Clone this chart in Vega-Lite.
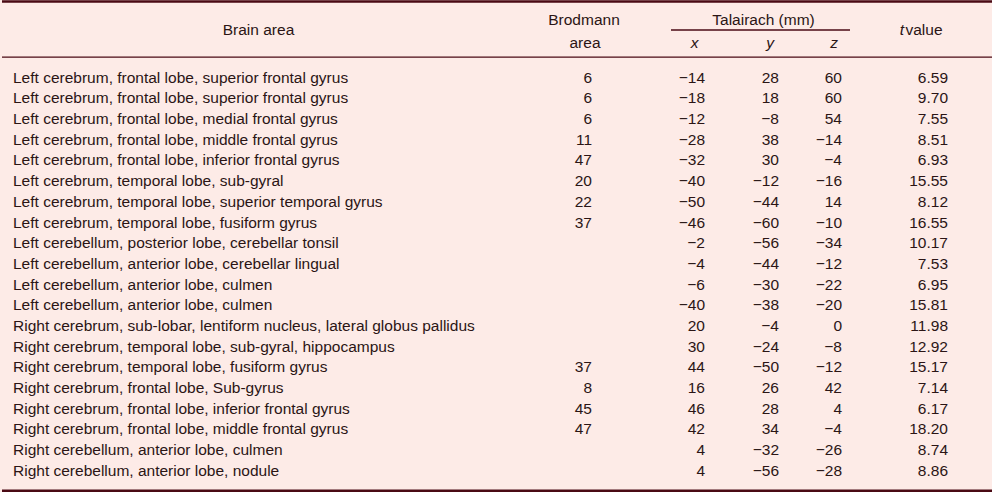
{
  "$schema": "https://vega.github.io/schema/vega-lite/v6.json",
  "width": 992,
  "height": 492,
  "autosize": {"type": "fit", "contains": "padding"},
  "padding": 0,
  "background": "#fdebe7",
  "config": {
    "view": {"stroke": null},
    "text": {"font": "Liberation Sans", "fontSize": 15.5, "fill": "#2b1515", "baseline": "alphabetic"},
    "rule": {"stroke": "#4a0a14"}
  },
  "datasets": {
    "rows": [
      {"row": 1, "area": "Left cerebrum, frontal lobe, superior frontal gyrus", "ba": 6, "x": -14, "y": 28, "z": 60, "t": 6.59},
      {"row": 2, "area": "Left cerebrum, frontal lobe, superior frontal gyrus", "ba": 6, "x": -18, "y": 18, "z": 60, "t": 9.70},
      {"row": 3, "area": "Left cerebrum, frontal lobe, medial frontal gyrus", "ba": 6, "x": -12, "y": -8, "z": 54, "t": 7.55},
      {"row": 4, "area": "Left cerebrum, frontal lobe, middle frontal gyrus", "ba": 11, "x": -28, "y": 38, "z": -14, "t": 8.51},
      {"row": 5, "area": "Left cerebrum, frontal lobe, inferior frontal gyrus", "ba": 47, "x": -32, "y": 30, "z": -4, "t": 6.93},
      {"row": 6, "area": "Left cerebrum, temporal lobe, sub-gyral", "ba": 20, "x": -40, "y": -12, "z": -16, "t": 15.55},
      {"row": 7, "area": "Left cerebrum, temporal lobe, superior temporal gyrus", "ba": 22, "x": -50, "y": -44, "z": 14, "t": 8.12},
      {"row": 8, "area": "Left cerebrum, temporal lobe, fusiform gyrus", "ba": 37, "x": -46, "y": -60, "z": -10, "t": 16.55},
      {"row": 9, "area": "Left cerebellum, posterior lobe, cerebellar tonsil", "ba": null, "x": -2, "y": -56, "z": -34, "t": 10.17},
      {"row": 10, "area": "Left cerebellum, anterior lobe, cerebellar lingual", "ba": null, "x": -4, "y": -44, "z": -12, "t": 7.53},
      {"row": 11, "area": "Left cerebellum, anterior lobe, culmen", "ba": null, "x": -6, "y": -30, "z": -22, "t": 6.95},
      {"row": 12, "area": "Left cerebellum, anterior lobe, culmen", "ba": null, "x": -40, "y": -38, "z": -20, "t": 15.81},
      {"row": 13, "area": "Right cerebrum, sub-lobar, lentiform nucleus, lateral globus pallidus", "ba": null, "x": 20, "y": -4, "z": 0, "t": 11.98},
      {"row": 14, "area": "Right cerebrum, temporal lobe, sub-gyral, hippocampus", "ba": null, "x": 30, "y": -24, "z": -8, "t": 12.92},
      {"row": 15, "area": "Right cerebrum, temporal lobe, fusiform gyrus", "ba": 37, "x": 44, "y": -50, "z": -12, "t": 15.17},
      {"row": 16, "area": "Right cerebrum, frontal lobe, Sub-gyrus", "ba": 8, "x": 16, "y": 26, "z": 42, "t": 7.14},
      {"row": 17, "area": "Right cerebrum, frontal lobe, inferior frontal gyrus", "ba": 45, "x": 46, "y": 28, "z": 4, "t": 6.17},
      {"row": 18, "area": "Right cerebrum, frontal lobe, middle frontal gyrus", "ba": 47, "x": 42, "y": 34, "z": -4, "t": 18.20},
      {"row": 19, "area": "Right cerebellum, anterior lobe, culmen", "ba": null, "x": 4, "y": -32, "z": -26, "t": 8.74},
      {"row": 20, "area": "Right cerebellum, anterior lobe, nodule", "ba": null, "x": 4, "y": -56, "z": -28, "t": 8.86}
    ],
    "one": [{}]
  },
  "layer": [
    {
      "data": {"name": "one"},
      "mark": {"type": "rule", "strokeWidth": 2.5},
      "encoding": {
        "x": {"datum": 0, "type": "quantitative", "scale": {"domain": [0, 992], "range": [0, 992], "nice": false, "zero": false}, "axis": null},
        "x2": {"datum": 992},
        "y": {"datum": -2.93, "type": "quantitative", "scale": {"domain": [1, 20], "range": [82.7, 475.8], "nice": false, "zero": false}, "axis": null}
      }
    },
    {
      "data": {"name": "one"},
      "mark": {"type": "rule", "strokeWidth": 1.3},
      "encoding": {
        "x": {"datum": 0, "type": "quantitative", "axis": null},
        "x2": {"datum": 992},
        "y": {"datum": -0.2325, "type": "quantitative", "axis": null}
      }
    },
    {
      "data": {"name": "one"},
      "mark": {"type": "rule", "strokeWidth": 2.6},
      "encoding": {
        "x": {"datum": 0, "type": "quantitative", "axis": null},
        "x2": {"datum": 992},
        "y": {"datum": 20.73, "type": "quantitative", "axis": null}
      }
    },
    {
      "data": {"name": "one"},
      "mark": {"type": "rule", "strokeWidth": 1.6},
      "encoding": {
        "x": {"datum": 669, "type": "quantitative", "axis": null},
        "x2": {"datum": 848},
        "y": {"datum": -1.547, "type": "quantitative", "axis": null}
      }
    },
    {
      "data": {"name": "one"},
      "mark": {"type": "text", "align": "center"},
      "encoding": {
        "x": {"datum": 256.5, "type": "quantitative", "axis": null},
        "y": {"datum": -1.305, "type": "quantitative", "axis": null},
        "text": {"value": "Brain area"}
      }
    },
    {
      "data": {"name": "one"},
      "mark": {"type": "text", "align": "center"},
      "encoding": {
        "x": {"datum": 582, "type": "quantitative", "axis": null},
        "y": {"datum": -1.789, "type": "quantitative", "axis": null},
        "text": {"value": "Brodmann"}
      }
    },
    {
      "data": {"name": "one"},
      "mark": {"type": "text", "align": "center"},
      "encoding": {
        "x": {"datum": 583, "type": "quantitative", "axis": null},
        "y": {"datum": -0.663, "type": "quantitative", "axis": null},
        "text": {"value": "area"}
      }
    },
    {
      "data": {"name": "one"},
      "mark": {"type": "text", "align": "center"},
      "encoding": {
        "x": {"datum": 761.5, "type": "quantitative", "axis": null},
        "y": {"datum": -1.789, "type": "quantitative", "axis": null},
        "text": {"value": "Talairach (mm)"}
      }
    },
    {
      "data": {"name": "one"},
      "mark": {"type": "text", "align": "center", "fontStyle": "italic"},
      "encoding": {
        "x": {"datum": 692.5, "type": "quantitative", "axis": null},
        "y": {"datum": -0.663, "type": "quantitative", "axis": null},
        "text": {"value": "x"}
      }
    },
    {
      "data": {"name": "one"},
      "mark": {"type": "text", "align": "center", "fontStyle": "italic"},
      "encoding": {
        "x": {"datum": 768, "type": "quantitative", "axis": null},
        "y": {"datum": -0.663, "type": "quantitative", "axis": null},
        "text": {"value": "y"}
      }
    },
    {
      "data": {"name": "one"},
      "mark": {"type": "text", "align": "center", "fontStyle": "italic"},
      "encoding": {
        "x": {"datum": 832, "type": "quantitative", "axis": null},
        "y": {"datum": -0.663, "type": "quantitative", "axis": null},
        "text": {"value": "z"}
      }
    },
    {
      "data": {"name": "one"},
      "mark": {"type": "text", "align": "right", "fontStyle": "italic"},
      "encoding": {
        "x": {"datum": 902, "type": "quantitative", "axis": null},
        "y": {"datum": -1.305, "type": "quantitative", "axis": null},
        "text": {"value": "t"}
      }
    },
    {
      "data": {"name": "one"},
      "mark": {"type": "text", "align": "left"},
      "encoding": {
        "x": {"datum": 903.5, "type": "quantitative", "axis": null},
        "y": {"datum": -1.305, "type": "quantitative", "axis": null},
        "text": {"value": "value"}
      }
    },
    {
      "data": {"name": "rows"},
      "mark": {"type": "text", "align": "left"},
      "encoding": {
        "x": {"datum": 11, "type": "quantitative", "axis": null},
        "y": {"field": "row", "type": "quantitative", "axis": null},
        "text": {"field": "area"}
      }
    },
    {
      "data": {"name": "rows"},
      "transform": [{"filter": "datum.ba != null"}],
      "mark": {"type": "text", "align": "right"},
      "encoding": {
        "x": {"datum": 590, "type": "quantitative", "axis": null},
        "y": {"field": "row", "type": "quantitative", "axis": null},
        "text": {"field": "ba", "type": "quantitative", "format": "d"}
      }
    },
    {
      "data": {"name": "rows"},
      "mark": {"type": "text", "align": "right"},
      "encoding": {
        "x": {"datum": 703, "type": "quantitative", "axis": null},
        "y": {"field": "row", "type": "quantitative", "axis": null},
        "text": {"field": "x", "type": "quantitative", "format": "d"}
      }
    },
    {
      "data": {"name": "rows"},
      "mark": {"type": "text", "align": "right"},
      "encoding": {
        "x": {"datum": 777, "type": "quantitative", "axis": null},
        "y": {"field": "row", "type": "quantitative", "axis": null},
        "text": {"field": "y", "type": "quantitative", "format": "d"}
      }
    },
    {
      "data": {"name": "rows"},
      "mark": {"type": "text", "align": "right"},
      "encoding": {
        "x": {"datum": 840, "type": "quantitative", "axis": null},
        "y": {"field": "row", "type": "quantitative", "axis": null},
        "text": {"field": "z", "type": "quantitative", "format": "d"}
      }
    },
    {
      "data": {"name": "rows"},
      "mark": {"type": "text", "align": "right"},
      "encoding": {
        "x": {"datum": 946, "type": "quantitative", "axis": null},
        "y": {"field": "row", "type": "quantitative", "axis": null},
        "text": {"field": "t", "type": "quantitative", "format": ".2f"}
      }
    }
  ]
}
